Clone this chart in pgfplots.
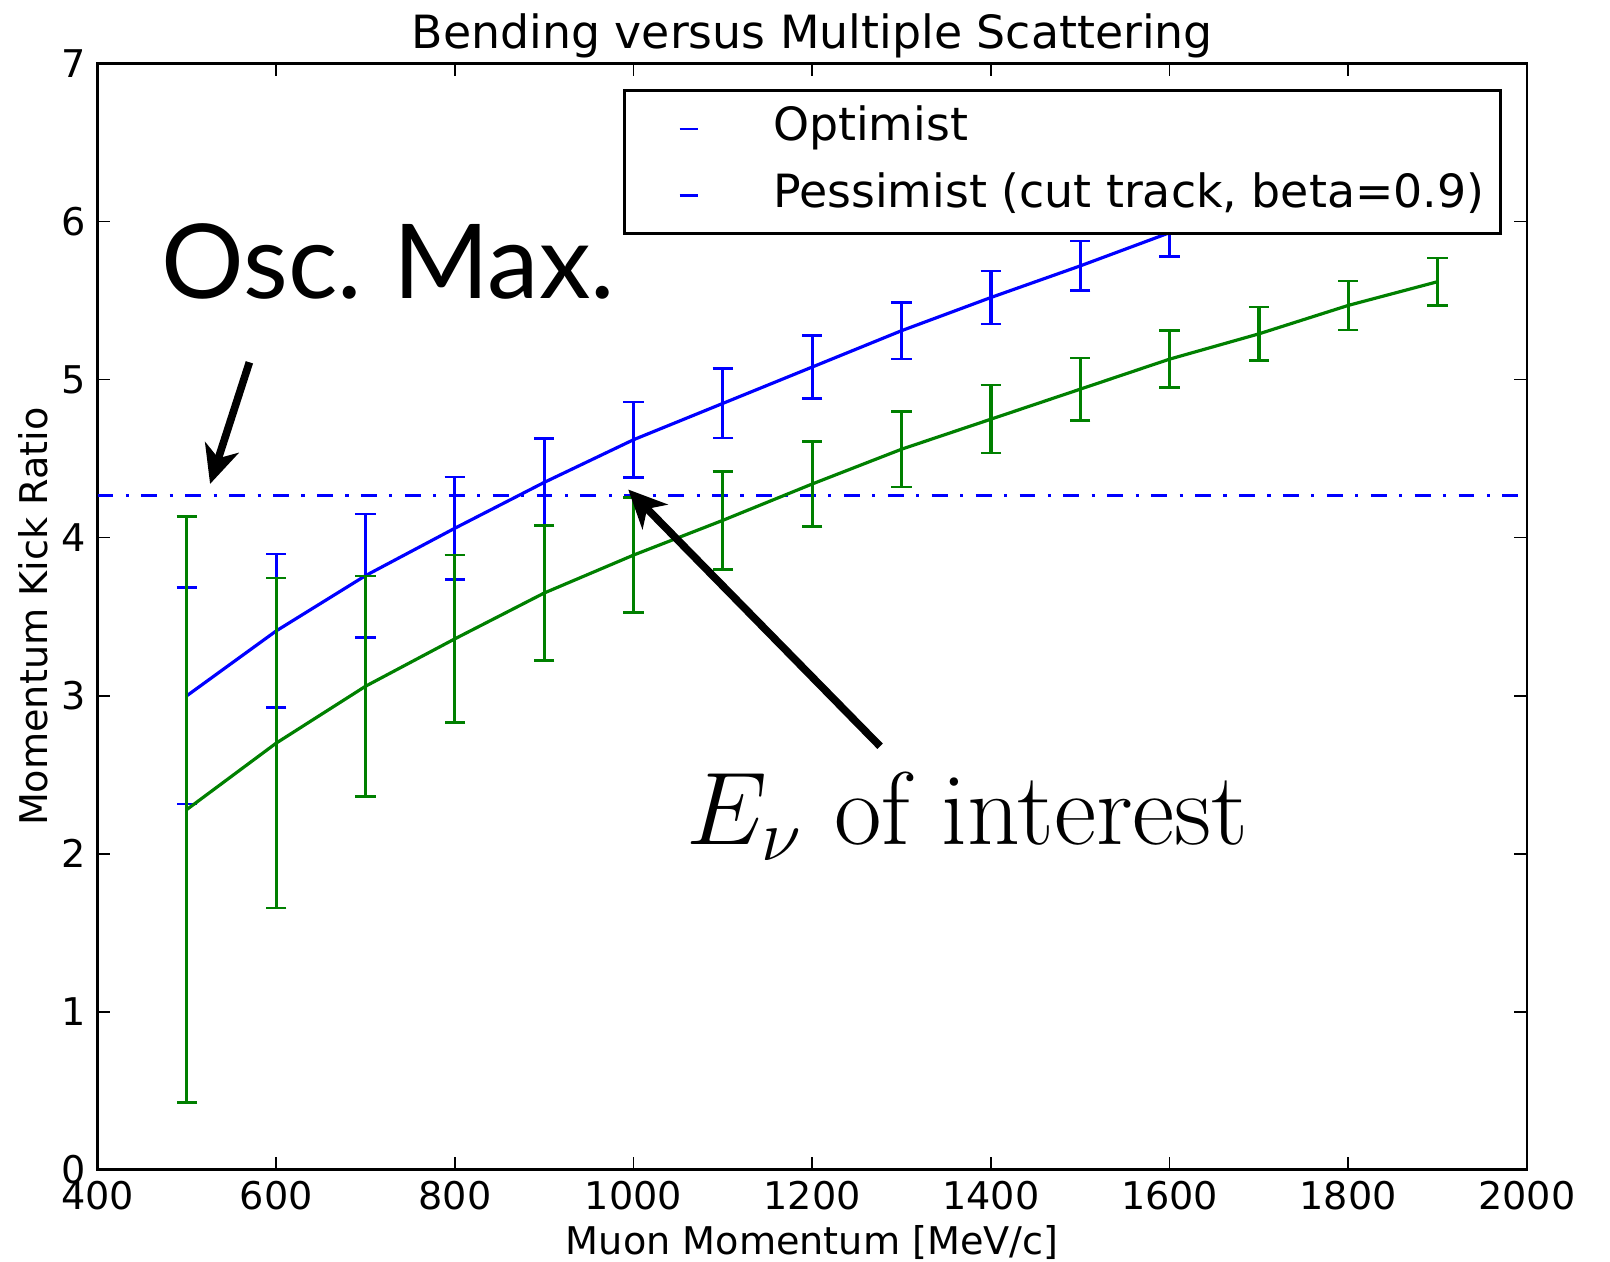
\RequirePackage{fix-cm}
\documentclass[border=0pt]{standalone}
\usepackage{fontspec}
\usepackage{pgfplots}
\pgfplotsset{compat=1.18}
\usepackage{pgfplotstable}
\usetikzlibrary{arrows.meta}
\newfontfamily\dejavu{DejaVu Sans}
\newfontfamily\lato{Lato}
\definecolor{mplblue}{RGB}{0,0,255}
\definecolor{mplgreen}{RGB}{0,128,0}

% x = momentum [MeV/c], y = kick ratio, e = symmetric error
\pgfplotstableread{
x y e
500 3.00 0.684
600 3.41 0.486
700 3.76 0.390
800 4.06 0.324
900 4.35 0.277
1000 4.62 0.240
1100 4.85 0.220
1200 5.08 0.200
1300 5.31 0.180
1400 5.52 0.167
1500 5.72 0.157
1600 5.93 0.150
1700 6.13 0.142
1800 6.32 0.135
1900 6.51 0.130
}\optimist

\pgfplotstableread{
x y e
500 2.28 1.854
600 2.70 1.044
700 3.06 0.697
800 3.36 0.530
900 3.65 0.426
1000 3.89 0.363
1100 4.11 0.310
1200 4.34 0.270
1300 4.56 0.240
1400 4.75 0.215
1500 4.94 0.197
1600 5.13 0.180
1700 5.29 0.170
1800 5.47 0.155
1900 5.62 0.150
}\pessimist

\begin{document}
\begin{tikzpicture}
\begin{axis}[
    scale only axis,
    width=449.3pt, height=347.7pt,
    xmin=400, xmax=2000, ymin=0, ymax=7,
    xtick={400,600,...,2000}, ytick={0,...,7},
    scaled ticks=false,
    /pgf/number format/.cd, set thousands separator={}, assume math mode=true,
    /pgfplots/.cd,
    ticklabel style={font=\dejavu\fontsize{12}{14}\selectfont},
    label style={font=\dejavu\fontsize{12}{14}\selectfont, inner sep=0pt},
    major tick length=4pt,
    tick style={line width=0.5pt, black},
    axis line style={line width=0.9pt},
    title={Bending versus Multiple Scattering},
    every axis title shift=0pt,
    title style={at={(axis description cs:0.5,1)}, anchor=base, yshift=4.7pt,
        inner sep=0pt, font=\dejavu\fontsize{14.4}{17}\selectfont},
    xlabel={Muon Momentum [MeV/c]},
    xlabel style={at={(axis description cs:0.5,0)}, anchor=base, yshift=-26.7pt},
    ylabel={Momentum Kick Ratio},
    ylabel style={at={(axis description cs:-0.0347,0.5)}, anchor=base},
    legend style={at={(axis description cs:0.9824,0.977)}, anchor=north east,
        draw=black, line width=1pt, fill=white,
        inner xsep=5pt, inner ysep=5pt, row sep=7pt,
        nodes={inner sep=0pt, text height=10.8pt, text depth=3.2pt},
        font=\dejavu\fontsize{14.4}{17}\selectfont},
    legend cell align=left,
    legend image code/.code={
        \path[draw=none] (0pt,0pt) -- (41.8pt,0pt);
        \draw[mplblue, line width=0.8pt] (12.4pt,0pt) -- (18.2pt,0pt);},
]
\addplot[mplblue, line width=1pt, dash pattern=on 5pt off 3.9pt on 1pt off 3.9pt, forget plot]
    coordinates {(400,4.265) (2000,4.265)};

\addplot[mplblue, line width=1pt, forget plot,
    error bars/.cd, y dir=both, y explicit,
    error bar style={line width=1pt},
    error mark options={rotate=90, mark size=3.2pt, line width=0.8pt, mplblue}]
    table[x=x, y=y, y error=e] {\optimist};

\addplot[mplgreen, line width=1pt, forget plot,
    error bars/.cd, y dir=both, y explicit,
    error bar style={line width=1pt},
    error mark options={rotate=90, mark size=3.2pt, line width=0.8pt, mplgreen}]
    table[x=x, y=y, y error=e] {\pessimist};

\addlegendimage{mplblue}
\addlegendentry{Optimist}
\addlegendimage{mplblue}
\addlegendentry{Pessimist (cut track, beta=0.9)}

\node[anchor=base west, inner sep=0pt, font=\lato\fontsize{32.5}{38}\selectfont]
    at (axis cs:471,5.516) {Osc.\kern0.3em Max.};
\draw[-{Stealth[length=12pt, width=11pt, inset=3.5pt]}, line width=2.4pt]
    (axis cs:570,5.11) -- (axis cs:526,4.34);

\node[anchor=base west, inner sep=0pt, font=\fontsize{32.5}{36}\selectfont]
    at (axis cs:1059,2.057) {$E_\nu$ of interest};
\draw[-{Stealth[length=12pt, width=11pt, inset=3.5pt]}, line width=2.4pt]
    (axis cs:1276,2.68) -- (axis cs:994,4.305);
\end{axis}
\path (current axis.south west) ++(-30.65pt,-28.9pt);
\path (current axis.north east) ++(26.1pt,20pt);
\end{tikzpicture}
\end{document}
